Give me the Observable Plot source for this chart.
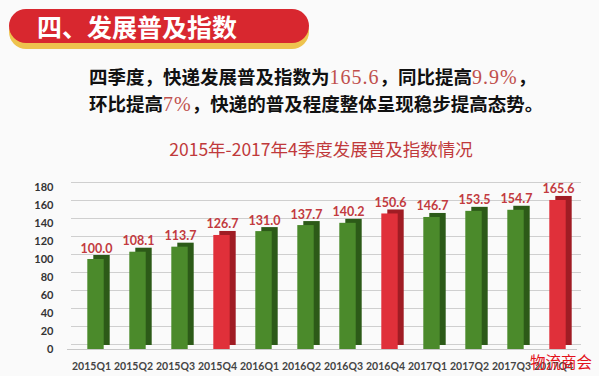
<!DOCTYPE html>
<html><head><meta charset="utf-8">
<script src="https://cdn.jsdelivr.net/npm/d3@7"></script>
<script src="https://cdn.jsdelivr.net/npm/@observablehq/plot@0.6"></script>
<style>
body{margin:0;width:599px;height:376px;position:relative;overflow:hidden;background:#fafafa;font-family:"Noto Sans CJK SC",sans-serif;}
#banner{position:absolute;left:9px;top:9px;width:300px;height:34px;border-radius:17px;background:#d8272f;box-shadow:0 6px 0 #eec34e;color:#fff;font-weight:bold;font-size:25px;line-height:34px;padding-left:28px;box-sizing:border-box;letter-spacing:0px;}
#para{position:absolute;left:89px;top:64px;font-family:"Liberation Serif","Noto Sans CJK SC",serif;font-weight:bold;font-size:18.5px;line-height:26px;color:#111;white-space:nowrap;}
#para .r{color:#c0504d;font-weight:normal;letter-spacing:1px;font-size:20px}
#ctitle{position:absolute;left:0;width:642px;text-align:center;top:136px;font-size:17.5px;color:#c0393b;}
#chart{position:absolute;left:0;top:170px;}
#wm{position:absolute;left:530px;top:352px;font-size:15.5px;line-height:18px;color:#e3121b;white-space:nowrap;}
</style></head><body>
<div id="banner">四、发展普及指数</div>
<div id="para">四季度，快递发展普及指数为<span class="r">165.6</span>，同比提高<span class="r">9.9%</span>，<br>环比提高<span class="r">7%</span>，快递的普及程度整体呈现稳步提高态势。</div>
<div id="ctitle">2015年-2017年4季度发展普及指数情况</div>
<div id="chart"></div>
<div id="wm">物流商会</div>
<script>
const quarters = ["2015Q1","2015Q2","2015Q3","2015Q4","2016Q1","2016Q2","2016Q3","2016Q4","2017Q1","2017Q2","2017Q3","2017Q4"];
const values = [100.0,108.1,113.7,126.7,131.0,137.7,140.2,150.6,146.7,153.5,154.7,165.6];
const yTicks = [0,20,40,60,80,100,120,140,160,180];

const data = quarters.map((q,i)=>({q, v: values[i], q4: q.endsWith("Q4")}));
const front = d => d.q4 ? "#e0303a" : "#4b8a2b";
const back = d => d.q4 ? "#a01c24" : "#2c5a18";

const chart = Plot.plot({
  width: 599, height: 206,
  marginLeft: 67, marginRight: 22, marginTop: 17, marginBottom: 27,
  style: {background: "transparent", overflow: "visible"},
  x: {domain: quarters, padding: 0, label: null, tickSize: 0, tickPadding: 13},
  y: {domain: [0, 180], ticks: yTicks, label: null, tickSize: 0, tickPadding: 14},
  marks: [
    Plot.gridY(yTicks, {stroke: "#cfcfcf", strokeOpacity: 1, dy: -5, dx: 4}),
    Plot.ruleY([0], {stroke: "#c8c8c8"}),
    Plot.barY(data, {x: "q", y: "v", fill: back, insetLeft: 23.3, insetRight: 2.3, dy: -4}),
    Plot.barY(data, {x: "q", y: "v", fill: front, insetLeft: 17.3, insetRight: 8.3}),
    Plot.text(data, {x: "q", y: "v", text: d => d.v.toFixed(1), dy: -11, dx: 5, fill: "#c23a40", fontSize: 12.5, fontWeight: "bold", fontFamily: "Lato"}),
    Plot.axisX({tickSize: 0, tickPadding: 13, fontSize: 10.5, fontWeight: "bold", fontFamily: "Lato", fill: "#444"}),
    Plot.axisY(yTicks, {tickSize: 0, tickPadding: 14, fontSize: 11, fontWeight: "bold", fontFamily: "Lato", fill: "#333"})
  ]
});
document.getElementById("chart").appendChild(chart);
</script>
</body></html>
